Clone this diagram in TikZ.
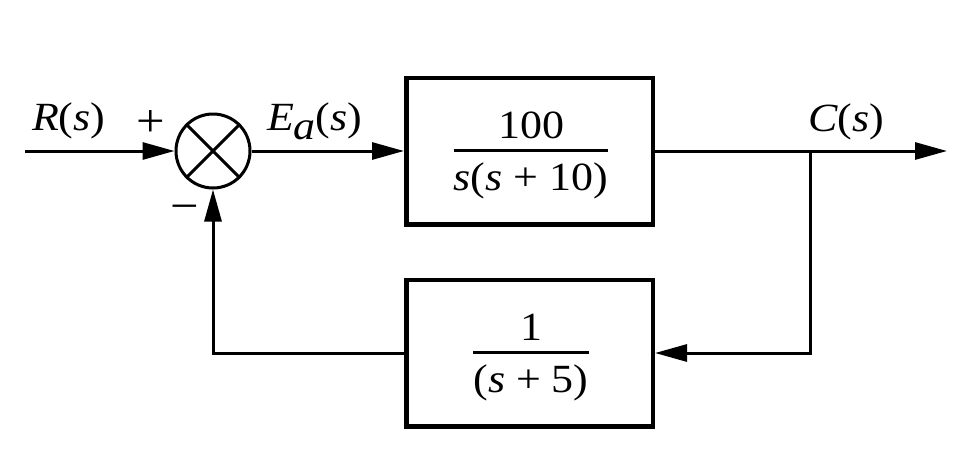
\documentclass[tikz,border=0pt]{standalone}
\usepackage{fontspec}
\setmainfont{Liberation Serif}
\usetikzlibrary{arrows.meta,calc}
\newcommand\widetxt[1]{\scalebox{1.1}[1]{#1}}
\begin{document}
\begin{tikzpicture}[x=1pt,y=-1pt,
  lbl/.style={font=\fontsize{40}{46}\selectfont, inner sep=0pt, outer sep=0pt},
  sgn/.style={font=\fontsize{46}{52}\selectfont, inner sep=0pt, outer sep=0pt},
  blk/.style={draw, line width=4.5pt, minimum width=246.5pt, minimum height=146.5pt, inner sep=0pt},
  wire/.style={line width=3pt},
  arr/.style={wire, -{Triangle[length=32pt,width=17pt]}},
  fbar/.style={line width=3pt}]
\useasboundingbox (0,0) rectangle (959,453);
\fill[white] (0,0) rectangle (959,453);
% summing junction
\node[draw, circle, line width=3pt, minimum size=74pt, inner sep=0pt] (sum) at (213,151) {};
\draw[wire] (sum.45) -- (sum.225);
\draw[wire] (sum.135) -- (sum.-45);
% blocks
\node[blk] (b1) at (529.5,151) {};
\node[blk] (b2) at (529.5,353) {};
% fractions
\node[lbl, anchor=base] (n1) at (531,138) {\widetxt{100}};
\node[lbl, anchor=base] (d1) at (531,190) {\widetxt{\textit{s}(\textit{s} + 10)}};
\coordinate (bar1) at (531,150);
\draw[fbar] (d1.west |- bar1) -- (d1.east |- bar1);
\node[lbl, anchor=base] (n2) at (531,340) {\widetxt{1}};
\node[lbl, anchor=base] (d2) at (531,392) {\widetxt{(\textit{s} + 5)}};
\coordinate (bar2) at (531,352);
\draw[fbar] (d2.west |- bar2) -- (d2.east |- bar2);
% labels
\node[lbl, anchor=base west] (R) at (32,130) {\widetxt{\textit{R}(\textit{s})}};
\node[sgn] (plus) at (151,124) {\widetxt{+}};
\node[sgn] (minus) at (185,213) {\widetxt{\char"2212}};
\node[lbl, anchor=base west] (E) at (267,130) {\widetxt{\textit{E}\raisebox{-9pt}{\textit{a}}(\textit{s})}};
\node[lbl, anchor=base west] (C) at (808,131) {\widetxt{\textit{C}(\textit{s})}};
% connectors
\coordinate (in) at (25,151);
\coordinate (out) at (947,151);
\coordinate (br) at (810,151);
\draw[arr] (in) -- (sum.west);
\draw[arr] (sum.east) -- (b1.west);
\draw[arr] (b1.east) -- (out);
\draw[arr] (br) |- (b2.east);
\draw[arr] (b2.west) -| (sum.south);
\end{tikzpicture}
\end{document}
